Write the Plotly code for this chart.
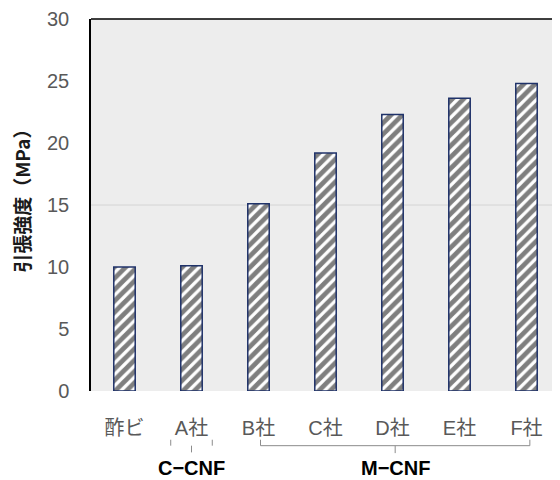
import plotly.graph_objects as go

categories = ["酢ビ", "A社", "B社", "C社", "D社", "E社", "F社"]
strength = [10.0, 10.1, 15.1, 19.2, 22.3, 23.6, 24.8]
y_ticks = [0, 5, 10, 15, 20, 25, 30]
groups = [
    {"label": "C−CNF", "start": 1 - 0.31, "end": 1 + 0.31, "center": 1},
    {"label": "M−CNF", "start": 2.03, "end": 6.05, "center": 4.04},
]

FONT = "Liberation Sans, Arial, Noto Sans CJK JP, sans-serif"
CJK = "Noto Sans CJK JP, sans-serif"

fig = go.Figure()
fig.add_trace(go.Bar(
    x=categories, y=strength,
    marker=dict(
        color="white",
        line=dict(color="#1f3269", width=1.5),
        pattern=dict(shape="/", fgcolor="black", bgcolor="white", size=8, solidity=0.6),
    ),
    width=0.32,
    hoverinfo="x+y",
))

shapes = []
# horizontal reference gridline at 15
shapes.append(dict(type="line", xref="paper", yref="y", x0=0, x1=1, y0=15, y1=15,
                   line=dict(color="#d4d4d4", width=1), layer="below"))
# top frame line
shapes.append(dict(type="line", xref="paper", yref="paper", x0=0, x1=1, y0=1, y1=1,
                   line=dict(color="black", width=1.5)))

annotations = []
for g in groups:
    if g["label"].startswith("C"):
        for xv in (g["start"], g["end"]):
            shapes.append(dict(type="line", xref="x", yref="paper", x0=xv, x1=xv,
                               y0=-0.131, y1=-0.147, line=dict(color="#8c8c8c", width=1)))
        shapes.append(dict(type="line", xref="x", yref="paper", x0=g["center"], x1=g["center"],
                           y0=-0.147, y1=-0.165, line=dict(color="#8c8c8c", width=1)))
    else:
        shapes.append(dict(type="path", xref="x", yref="paper",
                           path=f"M {g['start']},-0.131 L {g['start']},-0.147 L {g['end']},-0.147 L {g['end']},-0.131",
                           line=dict(color="#8c8c8c", width=1)))
        shapes.append(dict(type="line", xref="x", yref="paper", x0=g["center"], x1=g["center"],
                           y0=-0.147, y1=-0.167, line=dict(color="#8c8c8c", width=1)))
    annotations.append(dict(text=f"<b>{g['label']}</b>", xref="x", yref="paper",
                            x=g["center"], y=-0.206, showarrow=False,
                            xanchor="center", yanchor="middle",
                            font=dict(family=FONT, size=20, color="black")))

annotations.append(dict(text="<b>引張強度（MPa）</b>", xref="paper", yref="paper",
                        x=-0.147, y=0.522, textangle=-90, showarrow=False,
                        xanchor="center", yanchor="middle",
                        font=dict(family=CJK, size=19, color="#1a1a1a")))

# page has an 8px body margin; compensate so the drawing sits where the reference does
fig.update_layout(
    width=552, height=472,
    margin=dict(l=83, r=0, t=9, b=89),
    paper_bgcolor="white", plot_bgcolor="#ededed",
    showlegend=False,
    shapes=shapes, annotations=annotations,
    font=dict(family=FONT),
    xaxis=dict(
        type="category", showgrid=False, showline=False, ticks="",
        tickfont=dict(family=FONT, size=20, color="#595959"),
        ticklabelstandoff=23, range=[-0.5, 6.5], fixedrange=True,
    ),
    yaxis=dict(
        range=[0, 30], tickvals=y_ticks, showgrid=False, zeroline=False,
        showline=True, linecolor="black", linewidth=1.5, ticks="",
        tickfont=dict(family=FONT, size=20, color="#595959"),
        ticklabelstandoff=16, ticklabeloverflow="allow", fixedrange=True,
    ),
)

fig.write_html("out.html")
